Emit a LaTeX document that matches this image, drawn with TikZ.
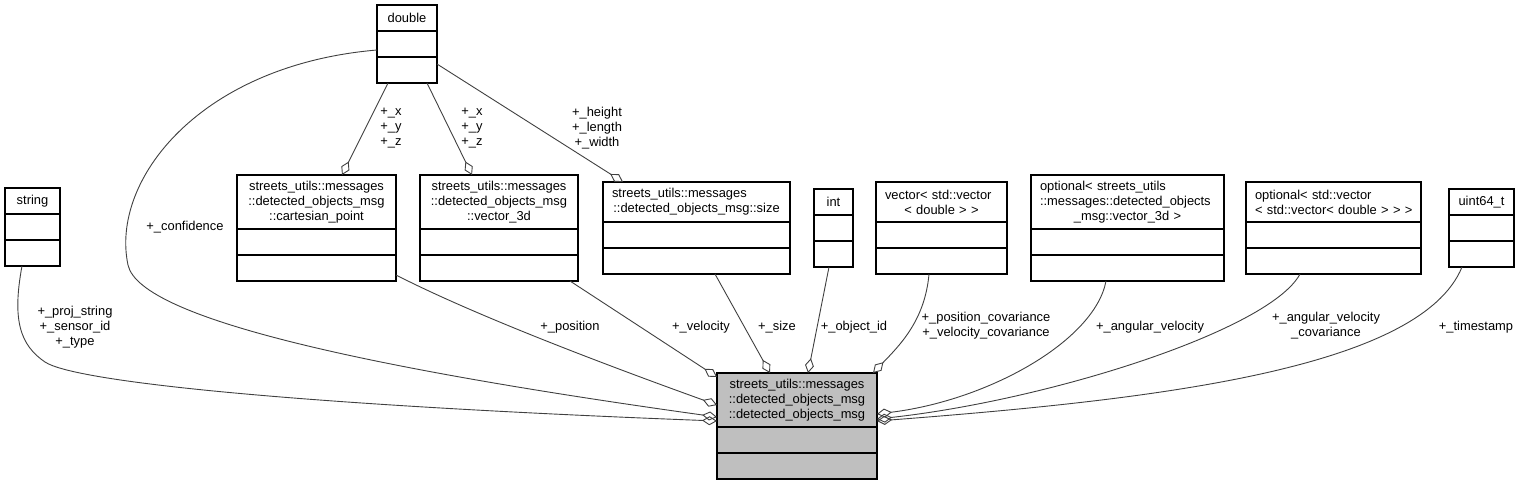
\documentclass[tikz,border=0pt]{standalone}
\usepackage{fontspec}
\setmainfont{Liberation Sans}
\usetikzlibrary{positioning, arrows.meta}
\definecolor{EdgeGray}{HTML}{404040}
\definecolor{MainGray}{HTML}{BFBFBF}

\tikzset{
  classhead/.style={draw, line width=1.2pt, outer sep=0pt, inner xsep=0pt, inner ysep=0pt,
    anchor=north west, align=center, font=\fontsize{12.9}{15}\selectfont},
  classrow/.style={draw, line width=1.2pt, outer sep=0pt, inner sep=0pt, minimum height=26pt},
  member/.style={EdgeGray, line width=0.9pt, -{Diamond[open, length=15pt, width=9pt]}},
  memberlabel/.style={font=\fontsize{12.9}{15}\selectfont, align=center, inner sep=0pt},
}

% class box: [fill]{name}{top left}{width}{title height}{title}
\newcommand{\umlclass}[6][white]{%
  \pgfmathsetlengthmacro{\titlewidth}{#4pt-18pt}%
  \node[classhead, fill=#1, minimum width=#4pt, minimum height=#5pt, text width=\titlewidth] (#2) at #3 {#6};
  \node[classrow, fill=#1, minimum width=#4pt, below=0pt of #2] (#2-attr) {};
  \node[classrow, fill=#1, minimum width=#4pt, below=0pt of #2-attr] (#2-ops) {};
}

\begin{document}
\begin{tikzpicture}[x=1pt, y=-1pt]
  \useasboundingbox (0,0) rectangle (1520,485);

  % Member types
  \umlclass{dbl}{(377,5)}{60}{26}{double}
  \umlclass{str}{(5,188)}{55}{26}{string}
  \umlclass{cart}{(237,175)}{159}{54}{streets\_utils::messages\\::detected\_objects\_msg\\::cartesian\_point}
  \umlclass{vec}{(420,175)}{158}{54}{streets\_utils::messages\\::detected\_objects\_msg\\::vector\_3d}
  \umlclass{size}{(603,182)}{187}{40}{{\raggedright streets\_utils::messages\par}::detected\_objects\_msg::size}
  \umlclass{int}{(814,189)}{39}{26}{int}
  \umlclass{cov}{(876,182)}{131}{40}{{\raggedright vector< std::vector\par}< double > >}
  \umlclass{optvec}{(1031,175)}{193}{54}{{\raggedright optional< streets\_utils\\::messages::detected\_objects\par}\_msg::vector\_3d >}
  \umlclass{optcov}{(1246,182)}{175}{40}{{\raggedright optional< std::vector\par}\mbox{< std::vector< double > > >}}
  \umlclass{uint}{(1449,189)}{65}{26}{uint64\_t}

  % Detected objects message
  \umlclass[MainGray]{msg}{(717,373)}{160}{54}{streets\_utils::messages\\::detected\_objects\_msg\\::detected\_objects\_msg}

  % Members of the point, vector and size types
  \draw[member] ([xshift=-19pt]dbl-ops.south) -- ([xshift=25.5pt]cart.north);
  \draw[member] ([xshift=20pt]dbl-ops.south) -- ([xshift=-27pt]vec.north);
  \draw[member] ([yshift=6pt]dbl-ops.east) -- ([xshift=-73.5pt]size.north);

  % Members of the message, left side
  \draw[member] ([yshift=-6pt]dbl-attr.west) .. controls (200,65) and (110,180) .. (128,265)
    .. controls (140,320) and (380,370) .. ([yshift=-17pt]msg.west);
  \draw[member] ([xshift=-10.5pt]str-ops.south) .. controls (12,320) and (20,345) .. (45,362)
    .. controls (75,382) and (300,405) .. ([yshift=-21pt]msg.west);
  \draw[member] ([yshift=-7pt]cart-ops.east) .. controls (480,318) and (620,370) .. ([yshift=-5pt]msg.west);
  \draw[member] ([xshift=71pt]vec-ops.south) -- ([yshift=23pt]msg.west);

  % Members of the message, top and right side
  \draw[member] ([xshift=18.5pt]size-ops.south) -- ([xshift=-27pt]msg.north);
  \draw[member] ([xshift=-4.5pt]int-ops.south) -- ([xshift=11pt]msg.north);
  \draw[member] ([xshift=-12.5pt]cov-ops.south) .. controls (925,320) and (900,345) .. ([xshift=-4pt]msg.north east);
  \draw[member] ([xshift=-21.5pt]optvec-ops.south) .. controls (1095,340) and (990,400) .. ([yshift=-14pt]msg.east);
  \draw[member] ([xshift=-33.5pt]optcov-ops.south) .. controls (1270,330) and (1050,400) .. ([yshift=-19pt]msg.east);
  \draw[member] ([xshift=-19.5pt]uint-ops.south) .. controls (1420,370) and (1150,400) .. ([yshift=-21pt]msg.east);

  % Labels
  \node[memberlabel] (lbl-cart) at (391,128) {+\_x\\+\_y\\+\_z};
  \node[memberlabel] (lbl-vec) at (472,128) {+\_x\\+\_y\\+\_z};
  \node[memberlabel] (lbl-size) at (597,128) {+\_height\\+\_length\\+\_width};
  \node[memberlabel] (lbl-conf) at (185,227) {+\_confidence};
  \node[memberlabel] (lbl-str) at (75,327) {+\_proj\_string\\+\_sensor\_id\\+\_type};
  \node[memberlabel] (lbl-pos) at (570,327) {+\_position};
  \node[memberlabel] (lbl-vel) at (701,327) {+\_velocity};
  \node[memberlabel] (lbl-sz) at (777,327) {+\_size};
  \node[memberlabel] (lbl-id) at (854,327) {+\_object\_id};
  \node[memberlabel] (lbl-cov) at (986,326) {+\_position\_covariance\\+\_velocity\_covariance};
  \node[memberlabel] (lbl-ang) at (1150,327) {+\_angular\_velocity};
  \node[memberlabel] (lbl-angcov) at (1326,326) {+\_angular\_velocity\\\_covariance};
  \node[memberlabel] (lbl-time) at (1476,327) {+\_timestamp};
\end{tikzpicture}
\end{document}
